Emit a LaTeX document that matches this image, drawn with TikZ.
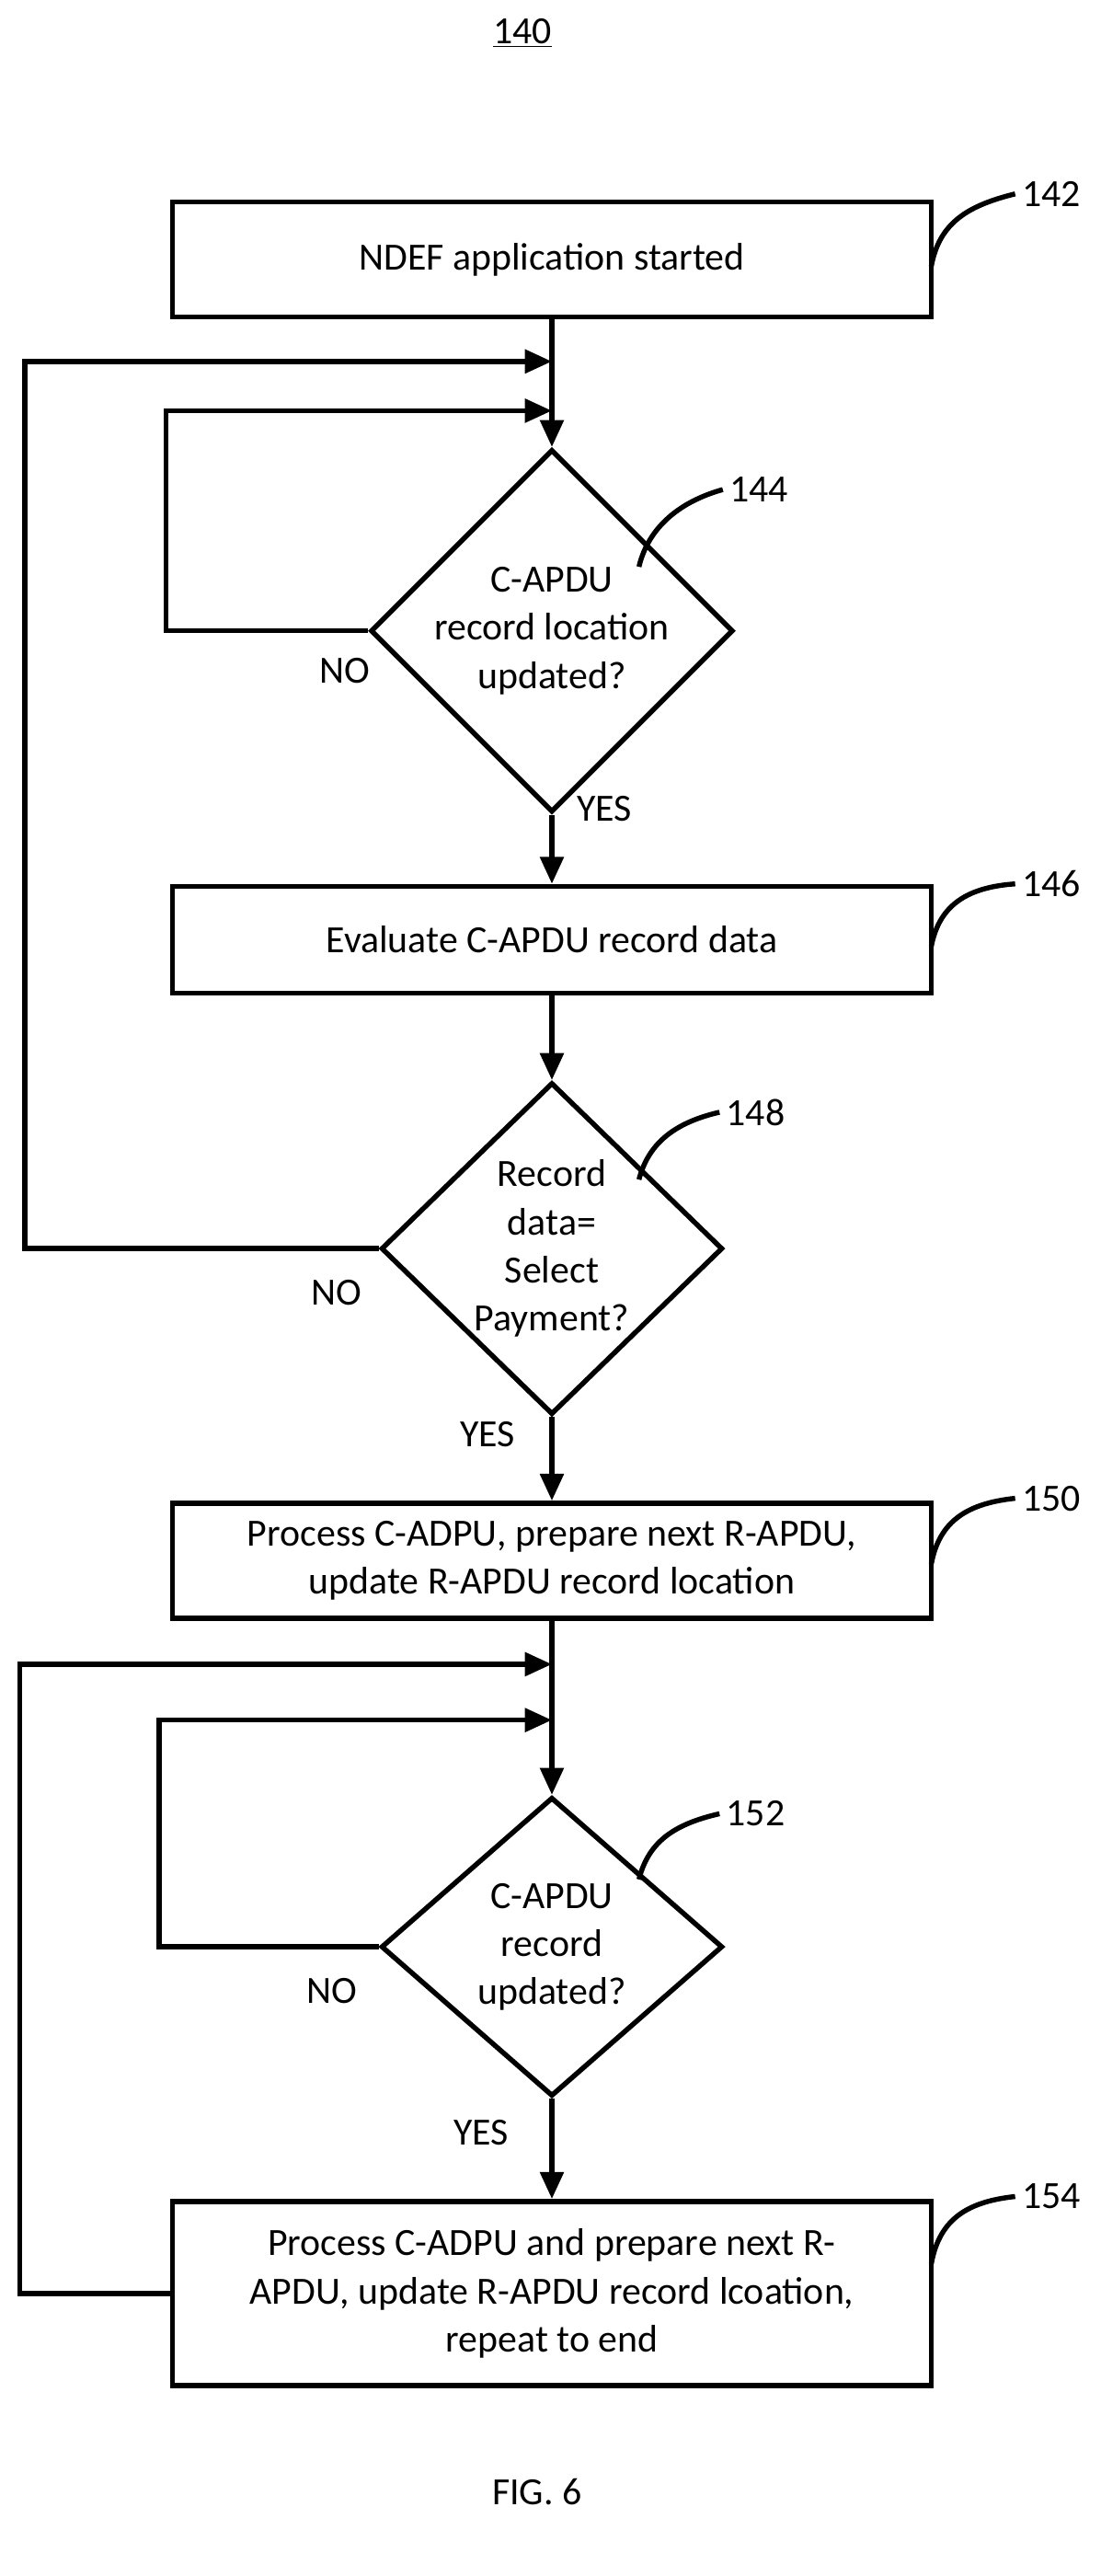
\documentclass[tikz,border=0pt]{standalone}
\usepackage{fontspec}
\setmainfont{Carlito}
\usetikzlibrary{shapes.geometric,arrows.meta,calc}
\begin{document}
\begin{tikzpicture}[x=0.03cm,y=-0.03cm,
  every node/.style={font=\fontsize{20}{25}\selectfont},
  line/.style={line width=2.6pt},
  arr/.style={line width=2.6pt,-{Triangle[length=14pt,width=12pt]}},
  box/.style={draw,line width=2.6pt,minimum width=13.86cm,align=center,inner sep=0pt},
  dia/.style={draw,diamond,line width=2.6pt,minimum width=6.24cm,minimum height=5.46cm,align=center,inner sep=0pt},
  lead/.style={line width=2.6pt}]
\useasboundingbox (0,0) rectangle (670,1568);
\node[anchor=center] (t140) at (318,20) {\underline{140}};
\node[box,minimum height=2.1cm] (b142) at (336,158) {NDEF application started};
\node[dia] (d144) at (336,384) {C-APDU\\record location\\updated?};
\node[box,minimum height=1.95cm] (b146) at (336,572) {Evaluate C-APDU record data};
\node[dia] (d148) at (336,760) {Record\\data=\\Select\\Payment?};
\node[box,minimum height=2.1cm] (b150) at (336,950) {Process C-ADPU, prepare next R-APDU,\\update R-APDU record location};
\node[dia] (d152) at (336,1185) {C-APDU\\record\\updated?};
\node[box,minimum height=3.36cm] (b154) at (336,1396) {Process C-ADPU and prepare next R-\\APDU, update R-APDU record lcoation,\\repeat to end};
\node (l142) at (640,118) {142};
\node (l144) at (462,298) {144};
\node (l146) at (640,538) {146};
\node (l148) at (460,677) {148};
\node (l150) at (640,912) {150};
\node (l152) at (460,1104) {152};
\node (l154) at (640,1337) {154};
\node (n1) at (210,408) {NO};
\node (y1) at (368,492) {YES};
\node (n2) at (205,787) {NO};
\node (y2) at (297,873) {YES};
\node (n3) at (202,1212) {NO};
\node (y3) at (293,1298) {YES};
\node (fig) at (327,1517) {FIG. 6};
\coordinate (j1) at (336,220);
\coordinate (j2) at (336,250);
\coordinate (j3) at (336,1013);
\coordinate (j4) at (336,1047);
% main flow
\draw[arr] (b142.south) -- (d144.north);
\draw[arr] (d144.south) -- (b146.north);
\draw[arr] (b146.south) -- (d148.north);
\draw[arr] (d148.south) -- (b150.north);
\draw[arr] (b150.south) -- (d152.north);
\draw[arr] (d152.south) -- (b154.north);
% loops
\draw[arr] (d144.west) -- (101,384) -- (101,250) -- (j2);
\draw[arr] (d148.west) -- (15,760) -- (15,220) -- (j1);
\draw[arr] (d152.west) -- (97,1185) -- (97,1047) -- (j4);
\draw[arr] (b154.west) -- (12,1396) -- (12,1013) -- (j3);
% leaders
\draw[lead] (567,162) .. controls (572,135) and (590,125) .. (l142.west);
\draw[lead] (389,345) .. controls (395,320) and (415,305) .. (l144.west);
\draw[lead] (567,576) .. controls (572,550) and (590,540) .. (l146.west);
\draw[lead] (389,718) .. controls (395,695) and (412,683) .. (l148.west);
\draw[lead] (567,952) .. controls (572,925) and (590,915) .. (l150.west);
\draw[lead] (389,1144) .. controls (395,1120) and (412,1110) .. (l152.west);
\draw[lead] (567,1378) .. controls (572,1350) and (590,1340) .. (l154.west);
\end{tikzpicture}
\end{document}
